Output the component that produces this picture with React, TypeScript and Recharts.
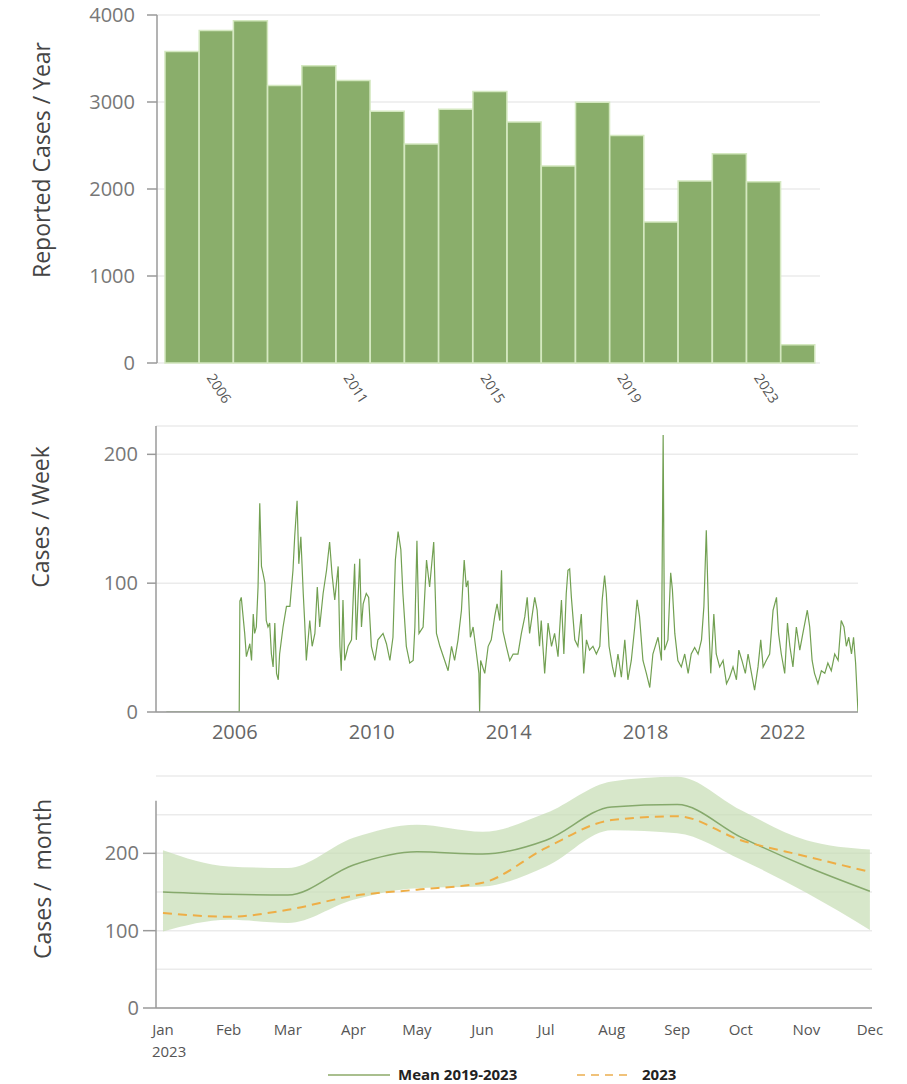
import React from 'react';
import {
  BarChart, Bar, LineChart, Line, ComposedChart, Area, XAxis, YAxis,
  CartesianGrid, ReferenceLine,
} from 'recharts';

// ---------- Chart 1: reported cases per year ----------
const annualYears = ['2006','2007','2008','2009','2010','2011','2012','2013','2014','2015','2016','2017','2018','2019','2020','2021','2022','2023','2024'];
const annualCases = [3580, 3823, 3934, 3189, 3416, 3247, 2894, 2518, 2918, 3120, 2771, 2265, 2998, 2614, 1620, 2092, 2406, 2084, 210];
const annualTickAt = ['2007', '2011', '2015', '2019', '2023'];
const annualTickLabels = ['2006', '2011', '2015', '2019', '2023'];
const annualYTicks = [0, 1000, 2000, 3000, 4000];

// ---------- Chart 2: cases per week ----------
const weeklyDates = [
  2004.00, 2006.13, 2006.15, 2006.19, 2006.29, 2006.34, 2006.44, 2006.49, 2006.54, 2006.58, 2006.63, 2006.68, 2006.73, 2006.78, 2006.83, 2006.88, 2006.92, 2006.97,
  2007.02, 2007.07, 2007.12, 2007.17, 2007.22, 2007.27, 2007.31, 2007.41, 2007.51, 2007.61, 2007.70, 2007.75, 2007.82, 2007.87, 2007.93,
  2008.00, 2008.04, 2008.09, 2008.19, 2008.26, 2008.34, 2008.41, 2008.48, 2008.58, 2008.68, 2008.77, 2008.84, 2008.92,
  2009.02, 2009.07, 2009.11, 2009.16, 2009.21, 2009.31, 2009.41, 2009.50, 2009.55, 2009.65, 2009.70, 2009.75, 2009.84, 2009.91, 2009.99,
  2010.09, 2010.18, 2010.33, 2010.43, 2010.53, 2010.62, 2010.69, 2010.77, 2010.85, 2010.91,
  2011.01, 2011.11, 2011.21, 2011.26, 2011.32, 2011.38, 2011.50, 2011.60, 2011.69, 2011.81, 2011.89, 2011.99,
  2012.13, 2012.23, 2012.33, 2012.42, 2012.52, 2012.62, 2012.70, 2012.76, 2012.81, 2012.88, 2012.96,
  2013.06, 2013.13, 2013.15, 2013.18, 2013.30, 2013.40, 2013.49, 2013.59, 2013.66, 2013.74, 2013.79, 2013.83, 2013.93,
  2014.03, 2014.13, 2014.27, 2014.37, 2014.47, 2014.54, 2014.61, 2014.69, 2014.76, 2014.83, 2014.90, 2014.95,
  2015.05, 2015.15, 2015.25, 2015.34, 2015.44, 2015.54, 2015.61, 2015.68, 2015.73, 2015.78, 2015.83, 2015.93,
  2016.02, 2016.12, 2016.19, 2016.27, 2016.36, 2016.46, 2016.56, 2016.66, 2016.73, 2016.80, 2016.85, 2016.93,
  2017.03, 2017.10, 2017.19, 2017.29, 2017.39, 2017.48, 2017.58, 2017.68, 2017.75, 2017.82, 2017.92,
  2018.02, 2018.12, 2018.21, 2018.36, 2018.46, 2018.51, 2018.55, 2018.65, 2018.73, 2018.78, 2018.85, 2018.94,
  2019.04, 2019.14, 2019.24, 2019.33, 2019.43, 2019.53, 2019.63, 2019.70, 2019.77, 2019.84, 2019.90, 2019.99,
  2020.06, 2020.16, 2020.26, 2020.36, 2020.45, 2020.55, 2020.65, 2020.72, 2020.81, 2020.91, 2020.99,
  2021.09, 2021.18, 2021.28, 2021.36, 2021.43, 2021.52, 2021.62, 2021.72, 2021.82, 2021.88, 2021.96,
  2022.06, 2022.14, 2022.21, 2022.30, 2022.40, 2022.50, 2022.59, 2022.72, 2022.79, 2022.86, 2022.93,
  2023.03, 2023.13, 2023.23, 2023.32, 2023.42, 2023.52, 2023.62, 2023.71, 2023.79, 2023.86, 2023.93,
  2024.01, 2024.07, 2024.13, 2024.20,
];
const weeklyCases = [
  0, 0, 86, 89, 61, 43, 53, 40, 76, 61, 66, 97, 162, 113, 107, 100, 71, 66,
  69, 45, 35, 69, 30, 25, 45, 66, 82, 82, 110, 136, 164, 115, 136,
  92, 71, 40, 71, 51, 61, 97, 66, 92, 110, 132, 107, 87,
  113, 51, 32, 87, 40, 51, 56, 115, 56, 119, 66, 84, 92, 89, 51,
  40, 56, 61, 53, 40, 58, 118, 140, 126, 92,
  51, 38, 40, 66, 133, 61, 66, 118, 97, 132, 61, 51,
  40, 32, 51, 40, 56, 79, 118, 97, 102, 58, 66,
  45, 30, 0, 40, 30, 51, 56, 74, 84, 71, 110, 63, 51,
  40, 45, 45, 61, 74, 89, 61, 76, 89, 79, 51, 71,
  30, 69, 51, 61, 43, 87, 45, 92, 110, 111, 89, 56,
  51, 76, 30, 56, 48, 51, 45, 51, 87, 106, 92, 51,
  35, 27, 45, 27, 56, 25, 40, 66, 87, 74, 40,
  30, 19, 45, 58, 40, 215, 48, 56, 108, 95, 61, 40,
  35, 45, 30, 45, 50, 45, 56, 82, 141, 71, 30, 76,
  45, 35, 40, 22, 27, 35, 25, 48, 40, 30, 45,
  30, 17, 35, 56, 35, 40, 45, 79, 89, 61, 45,
  30, 69, 51, 35, 66, 48, 61, 79, 66, 40, 30,
  22, 32, 30, 38, 32, 45, 40, 71, 66, 51, 58,
  45, 58, 38, 0,
];
const weeklyXTicks = [2006, 2010, 2014, 2018, 2022];
const weeklyYTicks = [0, 100, 200];

// ---------- Chart 3: cases per month, 2023 vs mean 2019-2023 ----------
const monthNames = ['Jan', 'Feb', 'Mar', 'Apr', 'May', 'Jun', 'Jul', 'Aug', 'Sep', 'Oct', 'Nov', 'Dec'];
const monthStartDay = [0, 31, 59, 90, 120, 151, 181, 212, 243, 273, 304, 334];
const meanCases = [150, 147, 146, 185, 202, 199, 217, 260, 263, 221, 183, 151];
const cases2023 = [123, 118, 127, 145, 153, 162, 207, 243, 248, 217, 196, 176];
const bandLow = [99, 114, 110, 140, 155, 157, 183, 230, 226, 192, 149, 101];
const bandHigh = [204, 183, 181, 220, 237, 228, 252, 293, 299, 256, 217, 205];
const monthlyYTicks = [0, 50, 100, 150, 200, 250, 300];
const monthlyYLabels = [0, 100, 200];

const annualData = annualYears.map((y, i) => ({ year: y, cases: annualCases[i] }));
const weeklyData = weeklyDates.map((t, i) => ({ t, cases: weeklyCases[i] }));
const monthlyData = monthStartDay.map((d, i) => ({
  day: d,
  mean: meanCases[i],
  y2023: cases2023[i],
  band: [bandLow[i], bandHigh[i]],
}));

const FONT = '"Open Sans", "Noto Sans", sans-serif';
const AXIS = '#9a9a9a';
const GRID = '#ebebeb';
const TICK_FONT = 20;

const AnnualTick = (props: any) => {
  const { x, y, payload } = props;
  const idx = annualTickAt.indexOf(String(payload.value));
  if (idx < 0) return null;
  return (
    <text
      transform={`translate(${x - 6},${y + 4}) rotate(57)`}
      textAnchor="start"
      fontSize={14}
      fill="#555"
      fontFamily={FONT}
      dy="0.35em"
    >
      {annualTickLabels[idx]}
    </text>
  );
};

const MonthTick = (props: any) => {
  const { x, y, payload } = props;
  const i = monthStartDay.indexOf(Number(payload.value));
  if (i < 0) return null;
  return (
    <g>
      <text x={x} y={y + 27} textAnchor="middle" fontSize={15} fill="#555" fontFamily={FONT}>
        {monthNames[i]}
      </text>
      {i === 0 && (
        <text x={x - 11} y={y + 49} textAnchor="start" fontSize={15} fill="#555" fontFamily={FONT}>
          2023
        </text>
      )}
    </g>
  );
};

const MonthlyYTick = (props: any) => {
  const { x, y, payload } = props;
  if (!monthlyYLabels.includes(Number(payload.value))) return null;
  return (
    <g>
      <line x1={x - 13} x2={x} y1={y} y2={y} stroke={AXIS} strokeWidth={1.5} />
      <text x={x - 17} y={y} dy="0.35em" textAnchor="end" fontSize={TICK_FONT} fill="#777" fontFamily={FONT}>
        {payload.value}
      </text>
    </g>
  );
};

const Title = ({ text, cx, cy }: { text: string; cx: number; cy: number }) => (
  <div
    style={{
      position: 'absolute',
      left: cx,
      top: cy,
      transform: 'translate(-50%, -50%) rotate(-90deg)',
      whiteSpace: 'pre',
      fontSize: 23,
      color: '#444',
      fontFamily: FONT,
    }}
  >
    {text}
  </div>
);

export default function App() {
  return (
    <div style={{ position: 'absolute', left: 0, top: 0, width: 907, height: 1084, background: '#fff', fontFamily: FONT, overflow: 'hidden' }}>
      {/* Chart 1 */}
      <div style={{ position: 'absolute', left: 0, top: 0 }}>
        <BarChart width={907} height={410} data={annualData} margin={{ top: 15, right: 87, bottom: 0, left: 0 }} barCategoryGap={0}>
          <CartesianGrid vertical={false} stroke={GRID} strokeWidth={1.5} />
          <XAxis
            dataKey="year"
            ticks={annualTickAt}
            interval={0}
            tick={<AnnualTick />}
            axisLine={false}
            tickLine={false}
            height={47}
            padding={{ left: 8, right: 5 }}
          />
          <YAxis
            width={157}
            domain={[0, 4000]}
            ticks={annualYTicks}
            tickSize={10}
            tickMargin={12}
            axisLine={{ stroke: AXIS, strokeWidth: 1.5 }}
            tickLine={{ stroke: AXIS, strokeWidth: 1.5 }}
            tick={{ fill: '#777', fontSize: TICK_FONT, fontFamily: FONT }}
          />
          <Bar dataKey="cases" fill="#8aae6b" stroke="#d4e8c0" strokeWidth={1.5} isAnimationActive={false} />
        </BarChart>
      </div>
      <Title text="Reported Cases / Year" cx={41} cy={160} />

      {/* Chart 2 */}
      <div style={{ position: 'absolute', left: 0, top: 410 }}>
        <LineChart width={907} height={340} data={weeklyData} margin={{ top: 16, right: 49, bottom: 0, left: 0 }}>
          <CartesianGrid vertical={false} stroke={GRID} strokeWidth={1.5} />
          <XAxis
            type="number"
            dataKey="t"
            domain={[2003.7, 2024.2]}
            ticks={weeklyXTicks}
            allowDataOverflow
            tickLine={false}
            tickMargin={7}
            axisLine={{ stroke: AXIS, strokeWidth: 1.5 }}
            tick={{ fill: '#666', fontSize: TICK_FONT, fontFamily: FONT }}
            height={38}
          />
          <YAxis
            width={156}
            domain={[0, 222]}
            ticks={weeklyYTicks}
            allowDataOverflow
            tickSize={9}
            tickMargin={9}
            axisLine={{ stroke: AXIS, strokeWidth: 1.5 }}
            tickLine={{ stroke: AXIS, strokeWidth: 1.5 }}
            tick={{ fill: '#777', fontSize: TICK_FONT, fontFamily: FONT }}
          />
          <Line type="linear" dataKey="cases" stroke="#72a052" strokeWidth={1.2} dot={false} isAnimationActive={false} />
        </LineChart>
      </div>
      <Title text="Cases / Week" cx={40} cy={517} />

      {/* Chart 3 */}
      <div style={{ position: 'absolute', left: 0, top: 760 }}>
        <ComposedChart width={907} height={306} data={monthlyData} margin={{ top: 16, right: 35, bottom: 0, left: 0 }}>
          <CartesianGrid vertical={false} stroke={GRID} strokeWidth={1.5} />
          <XAxis
            type="number"
            dataKey="day"
            domain={[-3.3, 335]}
            ticks={monthStartDay}
            interval={0}
            allowDataOverflow
            tickLine={false}
            tickSize={0}
            tickMargin={0}
            axisLine={{ stroke: AXIS, strokeWidth: 1.5 }}
            tick={<MonthTick />}
            height={58}
          />
          <YAxis
            width={156}
            domain={[0, 300]}
            ticks={monthlyYTicks}
            allowDataOverflow
            tickSize={0}
            tickMargin={0}
            axisLine={false}
            tickLine={false}
            tick={<MonthlyYTick />}
          />
          <Area type="monotone" dataKey="band" stroke="none" fill="#c6ddb4" fillOpacity={0.7} isAnimationActive={false} />
          <Line type="monotone" dataKey="mean" stroke="#86a96c" strokeWidth={1.5} dot={false} isAnimationActive={false} />
          <Line type="monotone" dataKey="y2023" stroke="#eeae46" strokeWidth={2} strokeDasharray="9 6" dot={false} isAnimationActive={false} />
          <ReferenceLine segment={[{ x: -3.3, y: 0 }, { x: -3.3, y: 268 }]} stroke={AXIS} strokeWidth={1.5} />
        </ComposedChart>
      </div>
      <Title text="Cases /  month" cx={42} cy={879} />

      {/* Legend */}
      <div style={{ position: 'absolute', left: 0, top: 1064, width: 907, height: 20 }}>
        <svg width={907} height={20} style={{ position: 'absolute', left: 0, top: 0 }}>
          <line x1={328} x2={390} y1={11} y2={11} stroke="#a9bf8e" strokeWidth={2} />
          <line x1={577} x2={633} y1={11} y2={11} stroke="#f0c27a" strokeWidth={2} strokeDasharray="8 6" />
        </svg>
        <div style={{ position: 'absolute', left: 398, top: 0, fontSize: 15, fontWeight: 700, color: '#222', fontFamily: FONT, whiteSpace: 'nowrap' }}>
          Mean 2019-2023
        </div>
        <div style={{ position: 'absolute', left: 642, top: 0, fontSize: 15, fontWeight: 700, color: '#222', fontFamily: FONT, whiteSpace: 'nowrap' }}>
          2023
        </div>
      </div>
    </div>
  );
}
